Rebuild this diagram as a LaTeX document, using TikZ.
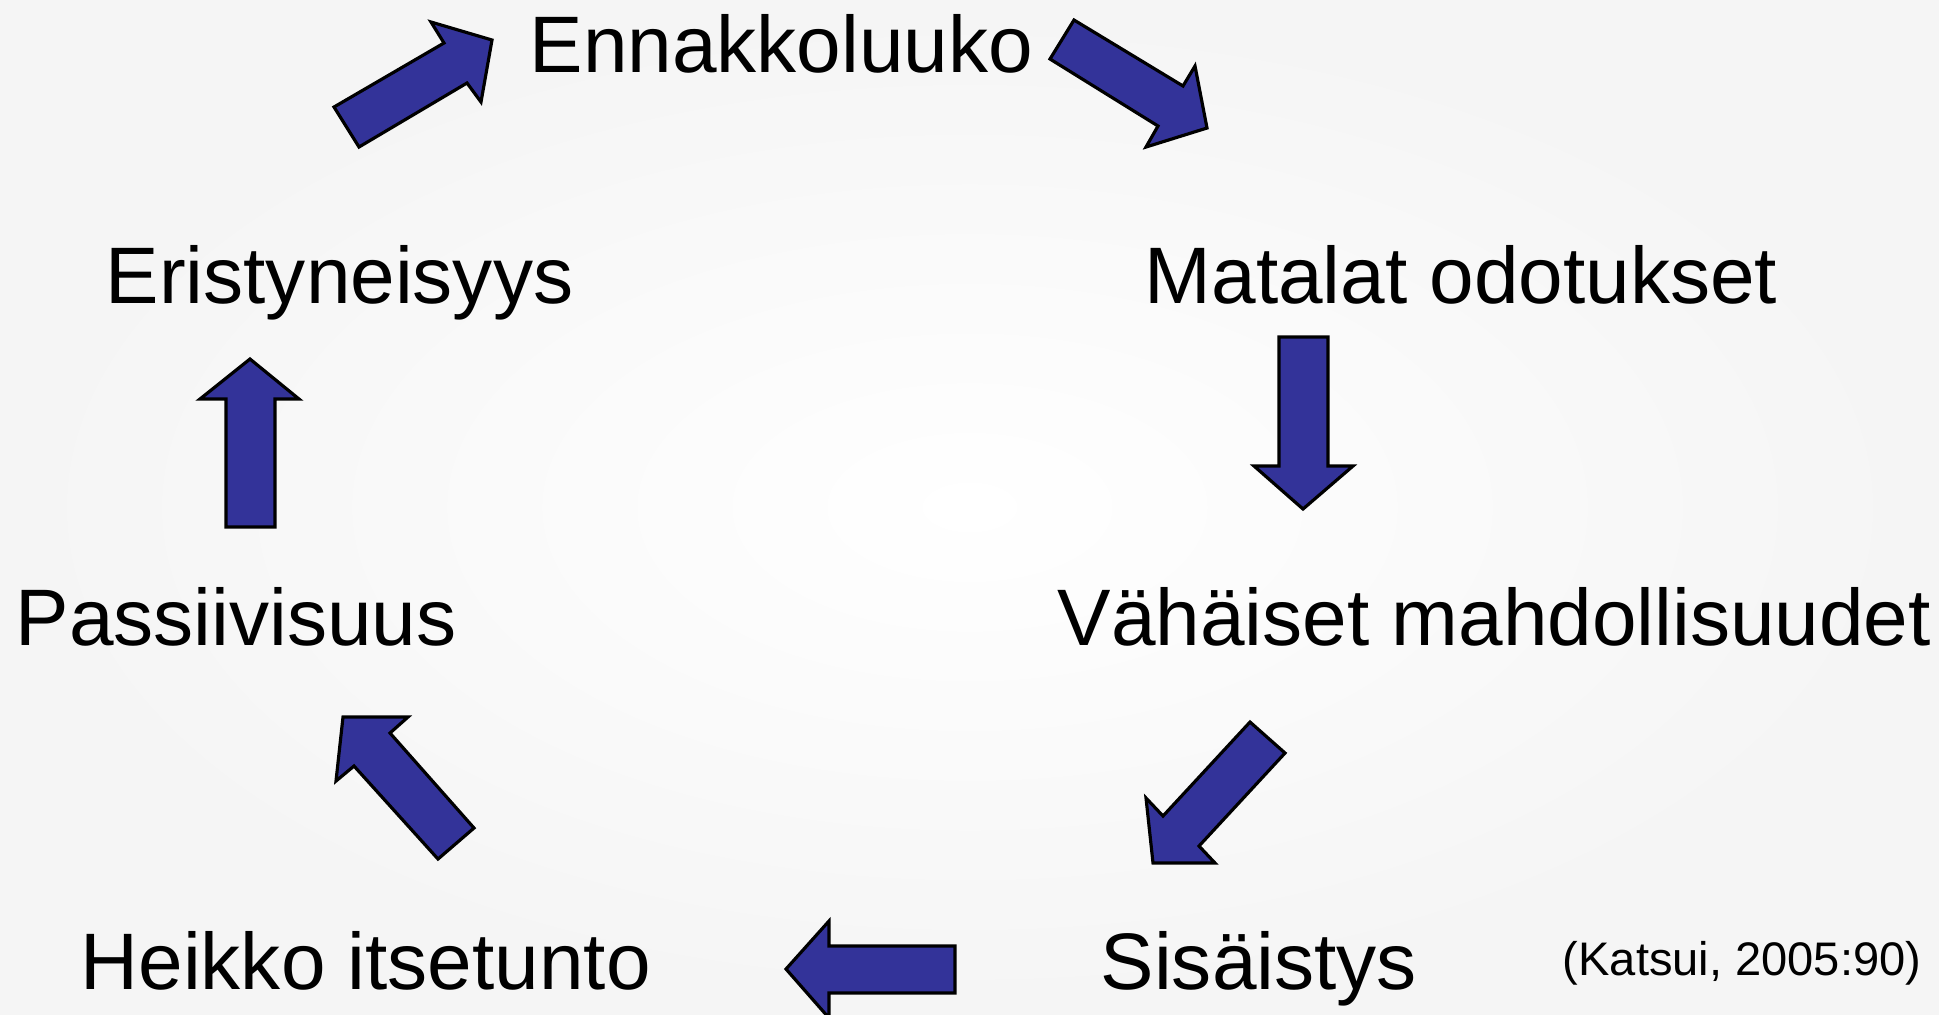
\documentclass[tikz,border=0pt]{standalone}
\usepackage{fontspec}
\setmainfont{Liberation Sans}
\usetikzlibrary{positioning}

\definecolor{cycleblue}{RGB}{51,51,153}
\tikzset{
  blockarrow/.style={draw=black, line width=0.9pt, fill=cycleblue, line join=miter},
  stage/.style={anchor=base west, inner sep=0pt, font=\fontsize{22.8}{27}\selectfont},
  source/.style={anchor=base west, inner sep=0pt, font=\fontsize{13.4}{16}\selectfont},
}

\begin{document}
\begin{tikzpicture}[x=0.1mm, y=-0.1mm]
% background
\shade[inner color=white, outer color=black!4] (0,0) rectangle (1939,1014);
\useasboundingbox (0,0) rectangle (1939,1014);

%stages of the circle
\node[stage] (enn) at (529,72) {Ennakkoluuko};
\node[stage] (mat) at (1144,303) {Matalat odotukset};
\node[stage] (vah) at (1057,645) {Vähäiset mahdollisuudet};
\node[stage] (sis) at (1100,989) {Sisäistys};
\node[stage] (hei) at (80,989) {Heikko itsetunto};
\node[stage] (pas) at (15,645) {Passiivisuus};
\node[stage] (eri) at (105,303) {Eristyneisyys};

%source
\node[source] (cite) at (1562,975) {(Katsui, 2005:90)};

%Eristyneisyys to Ennakkoluuko
\draw[blockarrow] (334,107) -- (444,43) -- (431,22) -- (492,40) -- (481,102) -- (467,83) -- (359,147) -- cycle;
%Ennakkoluuko to Matalat odotukset
\draw[blockarrow] (1074,20) -- (1183,86) -- (1195,66) -- (1207,128) -- (1146,147) -- (1158,126) -- (1050,59) -- cycle;
%Matalat odotukset to Vahaiset mahdollisuudet
\draw[blockarrow] (1279,337) -- (1328,337) -- (1328,466) -- (1353,466) -- (1303,509) -- (1254,466) -- (1279,466) -- cycle;
%Vahaiset mahdollisuudet to Sisaistys
\draw[blockarrow] (1250,722) -- (1285,753) -- (1199,846) -- (1215,863) -- (1153,863) -- (1146,798) -- (1163,816) -- cycle;
%Sisaistys to Heikko itsetunto
\draw[blockarrow] (955,946) -- (955,993) -- (829,993) -- (829,1018) -- (786,969) -- (829,921) -- (829,946) -- cycle;
%Heikko itsetunto to Passiivisuus
\draw[blockarrow] (438,859) -- (474,828) -- (390,733) -- (408,717) -- (343,717) -- (336,781) -- (354,766) -- cycle;
%Passiivisuus to Eristyneisyys
\draw[blockarrow] (226,527) -- (275,527) -- (275,399) -- (299,399) -- (250,359) -- (200,399) -- (226,399) -- cycle;

\end{tikzpicture}
\end{document}
